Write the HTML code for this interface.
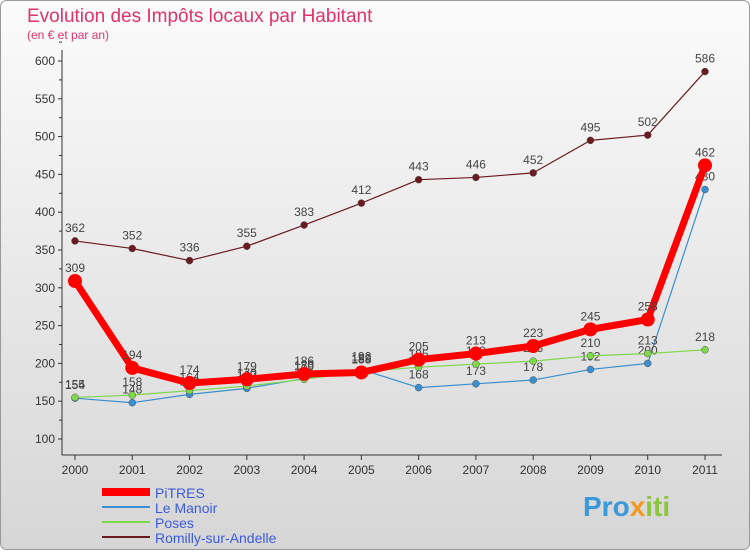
<!DOCTYPE html>
<html><head><meta charset="utf-8"><style>
html,body{margin:0;padding:0}
body{width:750px;height:550px;overflow:hidden;font-family:"Liberation Sans",sans-serif}
</style></head><body>
<svg width="750" height="550" xmlns="http://www.w3.org/2000/svg">
<defs><linearGradient id="bg" x1="0" y1="0" x2="0" y2="1"><stop offset="0" stop-color="#fbfbfb"/><stop offset="1" stop-color="#d6d6d6"/></linearGradient></defs>
<rect x="0.5" y="0.5" width="749" height="549" rx="6" fill="url(#bg)" stroke="#999"/>
<text x="27" y="22" font-size="19" fill="#e0336a">Evolution des Impôts locaux par Habitant</text>
<text x="27" y="39" font-size="12" fill="#e0336a">(en € et par an)</text>
<g id="axes"></g><g id="series"></g><g id="legend"></g>
<text x="583" y="516" font-size="28" font-weight="bold" fill="#3a9ad9">Pro<tspan fill="#f39a1e">x</tspan><tspan fill="#8cc63f">iti</tspan></text>
</svg>
<script>
const years=[2000,2001,2002,2003,2004,2005,2006,2007,2008,2009,2010,2011];
const pitres=[309,194,174,179,186,188,205,213,223,245,258,462];
const leManoir=[154,148,159,167,180,192,168,173,178,192,200,430];
const poses=[155,158,164,170,179,189,195,199,203,210,213,218];
const romilly=[362,352,336,355,383,412,443,446,452,495,502,586];
const yTicks=[100,150,200,250,300,350,400,450,500,550,600];
const NS="http://www.w3.org/2000/svg";
const xS=i=>75+i*(630/11);
const yS=v=>439-(v-100)*(378/500);
function mk(t,a,p){const e=document.createElementNS(NS,t);for(const k in a)e.setAttribute(k,a[k]);p.appendChild(e);return e;}
const ax=document.getElementById('axes');
const yl=mk('line',{x1:62,y1:50,x2:62,y2:455,stroke:'#333'},ax);


const xl=mk('line',{x1:62,y1:455,x2:722,y2:455,stroke:'#333'},ax);


yTicks.forEach(v=>{const y=yS(v);
mk('line',{x1:58,y1:y,x2:62,y2:y,stroke:'#333'},ax);
mk('line',{x1:59,y1:yS(v+25),x2:62,y2:yS(v+25),stroke:'#333'},ax);
const t=mk('text',{x:55,y:y+4,'font-size':12,'text-anchor':'end',fill:'#333'},ax);t.textContent=v;

});
years.forEach((yr,i)=>{const x=xS(i);
mk('line',{x1:x,y1:455,x2:x,y2:460,stroke:'#333'},ax);
const t=mk('text',{x:x,y:474,'font-size':12,'text-anchor':'middle',fill:'#333'},ax);t.textContent=yr;

});
const sg=document.getElementById('series');
const series=[
{name:'romilly-sur-andelle',label:'Romilly-sur-Andelle',d:romilly,c:'#6b1a1f',w:1.2,r:3.5},
{name:'le-manoir',label:'Le Manoir',d:leManoir,c:'#3a8fd0',w:1.2,r:3.5},
{name:'poses',label:'Poses',d:poses,c:'#7ed84a',w:1.2,r:3.5},
{name:'pitres',label:'PiTRES',d:pitres,c:'#ff0000',w:7,r:7}];
series.forEach(s=>{const g=mk('g',{},sg);


const pl=mk('polyline',{points:s.d.map((v,i)=>xS(i)+','+yS(v)).join(' '),fill:'none',stroke:s.c,'stroke-width':s.w,'stroke-linejoin':'round'},g);


s.d.forEach((v,i)=>{const c=mk('circle',{cx:xS(i),cy:yS(v),r:s.r,fill:s.c,stroke:s.r<5?'#555':'none','stroke-width':0.5},g);


const t=mk('text',{x:xS(i),y:yS(v)-9,'font-size':12,'text-anchor':'middle',fill:'#444'},g);t.textContent=v;

});});
const lg=document.getElementById('legend');
[series[3],series[1],series[2],series[0]].forEach((s,i)=>{const y=492+i*15;
const g=mk('g',{},lg);


mk('line',{x1:102,y1:y,x2:150,y2:y,stroke:s.c,'stroke-width':s.w>3?8:2},g);
const t=mk('text',{x:155,y:y+6,'font-size':14,fill:'#3b5bdb'},g);t.textContent=s.label;});
</script>
</body></html>
